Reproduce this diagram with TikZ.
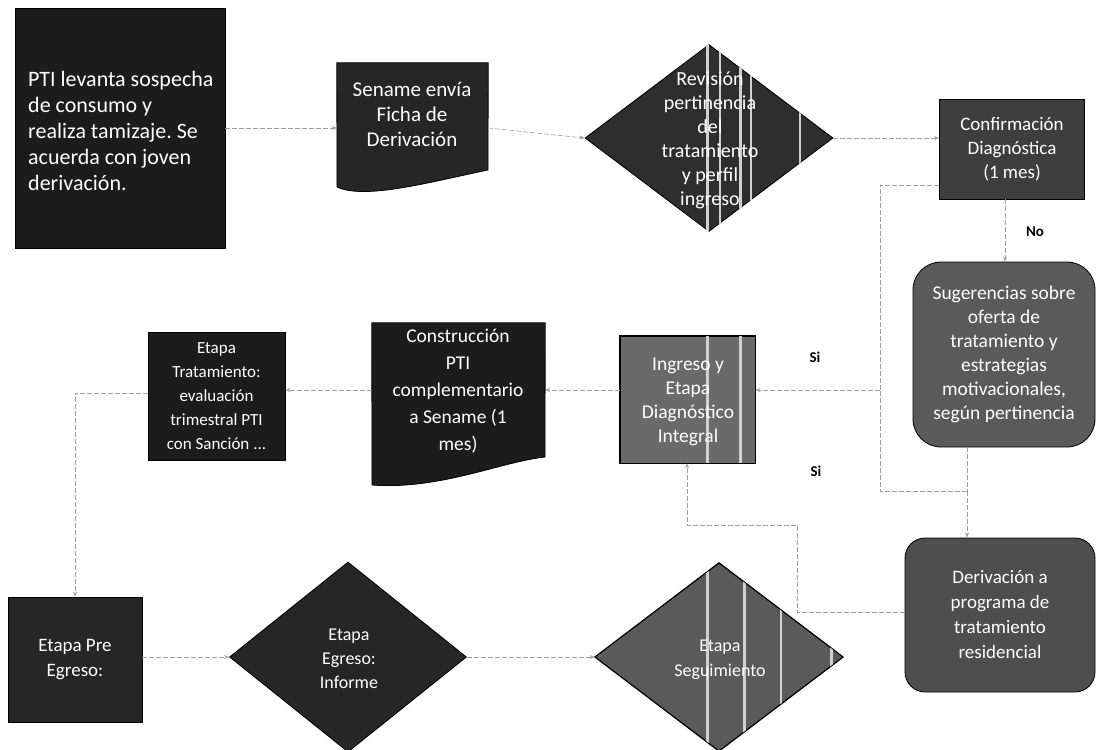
\documentclass[tikz,border=0pt]{standalone}
\usepackage{fontspec}
\setmainfont{Carlito}
\usetikzlibrary{shapes.geometric,arrows.meta}
\definecolor{cA}{HTML}{1C1C1C}
\definecolor{cB}{HTML}{262626}
\definecolor{cC}{HTML}{2E2E2E}
\definecolor{cD}{HTML}{3E3E3E}
\definecolor{cE}{HTML}{5A5A5A}
\definecolor{cF}{HTML}{6A6A6A}
\definecolor{cG}{HTML}{4E4E4E}
\definecolor{stripe}{HTML}{D0D0D0}
\frenchspacing
\begin{document}
\begin{tikzpicture}[x=1pt,y=-1pt,
  box/.style={draw=black, line width=0.8pt, inner sep=0pt, text=white, align=center},
  dia/.style={shape=diamond, draw=black, line width=0.8pt, inner sep=0pt},
  lbl/.style={text=white, align=center},
  conn/.style={draw=gray!75, line width=0.6pt, dash pattern=on 5pt off 2pt},
  arr/.style={conn, -{Stealth[length=5pt,width=4pt]}},
  ans/.style={font=\fontsize{15}{17}\selectfont\bfseries, text=black}
]
\useasboundingbox (0,0) rectangle (1096,750);

% ---- row 1 ----
\node[box, fill=cA, minimum width=210pt, minimum height=240pt] (pti) at (120,128) {};
\node[lbl, align=left, anchor=west, inner sep=0pt, font=\fontsize{22}{26}\selectfont] (pti-t) at (28,131)
  {PTI levanta sospecha\\de consumo y\\realiza tamizaje. Se\\acuerda con joven\\derivación.};

\node[inner sep=0pt, minimum width=151pt, minimum height=124pt] (sename) at (412.5,125) {};
\draw[line width=0.8pt, fill=cB] (sename.north west) -- (sename.north east) -- (488,170)
  .. controls (430,182) and (365,200) .. (337,187) -- cycle;
\node[lbl, font=\fontsize{21}{25}\selectfont] (sename-t) at (412,114) {Sename envía\\Ficha de\\Derivación};

\node[dia, fill=cC, minimum width=248pt, minimum height=187pt] (rev) at (709,138) {};
\begin{scope}
  \clip (rev.north) -- (rev.east) -- (rev.south) -- (rev.west) -- cycle;
  \foreach \sx/\sw in {706/3, 719/2, 739/3, 750/2, 799/2}
    \fill[stripe] (\sx,0) rectangle ++(\sw,750);
\end{scope}
\node[lbl, font=\fontsize{20}{24}\selectfont] (rev-t) at (710,140) {Revisión\\pertinencia\\del\\tratamiento\\y perfil\\ingreso};

\node[box, fill=cD, minimum width=145pt, minimum height=100pt, font=\fontsize{19}{24}\selectfont] (conf) at (1012,149)
  {Confirmación\\Diagnóstica\\(1 mes)};

% ---- right column ----
\node[box, fill=cE, rounded corners=28pt, minimum width=182pt, minimum height=185pt, font=\fontsize{19.5}{24}\selectfont] (sug) at (1004,354.5)
  {Sugerencias sobre\\oferta de\\tratamiento y\\estrategias\\motivacionales,\\según pertinencia};

\node[box, fill=cG, rounded corners=20pt, minimum width=190pt, minimum height=154pt, font=\fontsize{19}{25}\selectfont] (deriv) at (1000,615)
  {Derivación a\\programa de\\tratamiento\\residencial};

% ---- row 2 ----
\node[box, fill=cF, minimum width=135pt, minimum height=127pt] (ing) at (687.5,399.5) {};
\begin{scope}
  \clip (ing.north west) rectangle (ing.south east);
  \foreach \sx/\sw in {706/3, 739/3}
    \fill[stripe] (\sx,0) rectangle ++(\sw,750);
\end{scope}
\draw[line width=0.8pt] (ing.north west) rectangle (ing.south east);
\node[lbl, font=\fontsize{19.5}{24}\selectfont] (ing-t) at (688,402) {Ingreso y\\Etapa\\Diagnóstico\\Integral};

\node[inner sep=0pt, minimum width=173pt, minimum height=134pt] (cons) at (458.5,390) {};
\draw[line width=0.8pt, fill=cA] (cons.north west) -- (cons.north east) -- (545,457)
  .. controls (500,462) and (440,490) .. (372,485) -- cycle;
\node[lbl, font=\fontsize{19.5}{27}\selectfont] (cons-t) at (458,391) {Construcción\\PTI\\complementario\\a Sename (1\\mes)};

\node[box, fill=cA, minimum width=137pt, minimum height=128pt, font=\fontsize{17}{24}\selectfont] (trat) at (216.5,396)
  {Etapa\\Tratamiento:\\evaluación\\trimestral PTI\\con Sanción ...};

% ---- row 3 ----
\node[box, fill=cB, minimum width=134pt, minimum height=125pt, font=\fontsize{19}{25}\selectfont] (pre) at (75,659.5)
  {Etapa Pre\\Egreso:};

\node[dia, fill=cB, minimum width=237pt, minimum height=190pt] (egr) at (348,657) {};
\node[lbl, font=\fontsize{18}{24}\selectfont] (egr-t) at (349,659) {Etapa\\Egreso:\\Informe};

\node[dia, fill=cE, minimum width=248pt, minimum height=188pt] (seg) at (719,657) {};
\begin{scope}
  \clip (seg.north) -- (seg.east) -- (seg.south) -- (seg.west) -- cycle;
  \foreach \sx/\sw in {706/3, 743/3, 780/2, 830/3}
    \fill[stripe] (\sx,0) rectangle ++(\sw,750);
\end{scope}
\draw[line width=0.8pt] (seg.north) -- (seg.east) -- (seg.south) -- (seg.west) -- cycle;
\node[lbl, font=\fontsize{18}{25}\selectfont] (seg-t) at (720,660) {Etapa\\Seguimiento};

% ---- connectors ----
\coordinate (vx1) at (880,185);
\coordinate (vx2) at (880,390);
\coordinate (split) at (967,491);
\coordinate (sx) at (880,491);
\coordinate (nox) at (1005,0);
\coordinate (b1) at (797,612);
\coordinate (b2) at (797,525);
\coordinate (b3) at (687,525);
\coordinate (t1) at (75,393);

\draw[arr] (pti.east |- 0,128) -- (sename.west |- 0,128);
\draw[arr] (sename.east |- 0,128) -- (rev.west);
\draw[arr] (rev.east) -- (conf.west |- rev.east);
\draw[arr] (conf.south -| nox) -- (sug.north -| nox);
\node[ans] (no) at (1035,232) {No};
\draw[conn] (conf.west |- vx1) -- (vx1) -- (vx2);
\draw[arr] (vx2) -- (ing.east |- vx2);
\node[ans] (si1) at (815,357) {Si};
\draw[conn] (sug.south -| split) -- (split);
\draw[arr] (split) -- (deriv.north -| split);
\draw[conn] (split) -- (sx) -- (vx2);
\node[ans] (si2) at (816,471) {Si};
\draw[arr] (deriv.west |- b1) -- (b1) -- (b2) -- (b3) -- (ing.south -| b3);
\draw[arr] (ing.west |- cons.east) -- (cons.east);
\draw[arr] (cons.west) -- (trat.east |- cons.west);
\draw[arr] (trat.west |- t1) -- (t1) -- (pre.north);
\draw[arr] (pre.east |- egr.west) -- (egr.west);
\draw[arr] (egr.east) -- (seg.west);
\end{tikzpicture}
\end{document}
